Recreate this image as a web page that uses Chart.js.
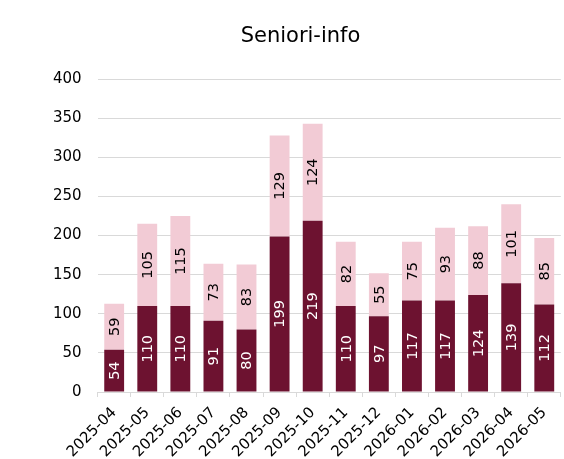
<!DOCTYPE html>
<html>
<head>
<meta charset="utf-8">
<script src="https://cdn.jsdelivr.net/npm/chart.js@4"></script>
<style>
  html, body { margin: 0; padding: 0; background: #fff; }
  #wrap { width: 564px; height: 459px; }
</style>
</head>
<body>
<div id="wrap"><canvas id="seniorChart"></canvas></div>
<script>
// Data
const months = ['2025-04','2025-05','2025-06','2025-07','2025-08','2025-09','2025-10',
                '2025-11','2025-12','2026-01','2026-02','2026-03','2026-04','2026-05']
const lowerValues = [54, 110, 110, 91, 80, 199, 219, 110, 97, 117, 117, 124, 139, 112]
const upperValues = [59, 105, 115, 73, 83, 129, 124, 82, 55, 75, 93, 88, 101, 85]
const yTicks = [0, 50, 100, 150, 200, 250, 300, 350, 400]

const FONT = 'DejaVu Sans'
Chart.defaults.font.family = FONT
Chart.defaults.color = '#000'

// labels inside bars, rotated
const barLabels = {
    id: 'barLabels',
    afterDatasetsDraw(chart) {
        const ctx = chart.ctx
        chart.data.datasets.forEach((ds, i) => {
            const meta = chart.getDatasetMeta(i)
            meta.data.forEach((bar, j) => {
                const yMid = (bar.y + bar.base) / 2
                ctx.save()
                ctx.translate(bar.x, yMid)
                ctx.rotate(-Math.PI / 2)
                ctx.font = '14.5px "' + FONT + '"'
                ctx.fillStyle = i === 0 ? '#fff' : '#000'
                ctx.textAlign = 'center'
                ctx.textBaseline = 'middle'
                ctx.fillText(ds.data[j], 0, 1)
                ctx.restore()
            })
        })
    }
}

new Chart('seniorChart', {
    type: 'bar',
    data: {
        labels: months,
        datasets: [
            { data: lowerValues, backgroundColor: '#6d1230', barPercentage: 0.6, categoryPercentage: 1 },
            { data: upperValues, backgroundColor: '#f2cbd5', barPercentage: 0.6, categoryPercentage: 1 }
        ]
    },
    options: {
        responsive: true,
        maintainAspectRatio: false,
        animation: false,
        layout: { padding: { left: 37, right: 0, top: 11, bottom: 0 } },
        plugins: {
            legend: { display: false },
            tooltip: { enabled: false },
            title: {
                display: true,
                text: 'Seniori-info',
                color: '#000',
                font: { family: FONT, size: 21, weight: 'normal' },
                padding: { top: 13, bottom: 30 }
            }
        },
        scales: {
            x: {
                stacked: true,
                afterFit: axis => { axis.height = 67 },
                grid: { display: true, drawOnChartArea: false, drawTicks: true, tickLength: 5, color: '#d9d9d9' },
                border: { color: '#d9d9d9' },
                ticks: { maxRotation: 45, minRotation: 45, padding: 7, font: { family: FONT, size: 15 }, color: '#000' }
            },
            y: {
                stacked: true,
                min: 0,
                max: 400,
                afterBuildTicks: axis => { axis.ticks = yTicks.map(v => ({ value: v })) },
                grid: { color: '#d9d9d9', drawTicks: false },
                border: { display: false },
                ticks: { font: { family: FONT, size: 15 }, color: '#000', padding: 16 }
            }
        }
    },
    plugins: [barLabels]
})
</script>
</body>
</html>
